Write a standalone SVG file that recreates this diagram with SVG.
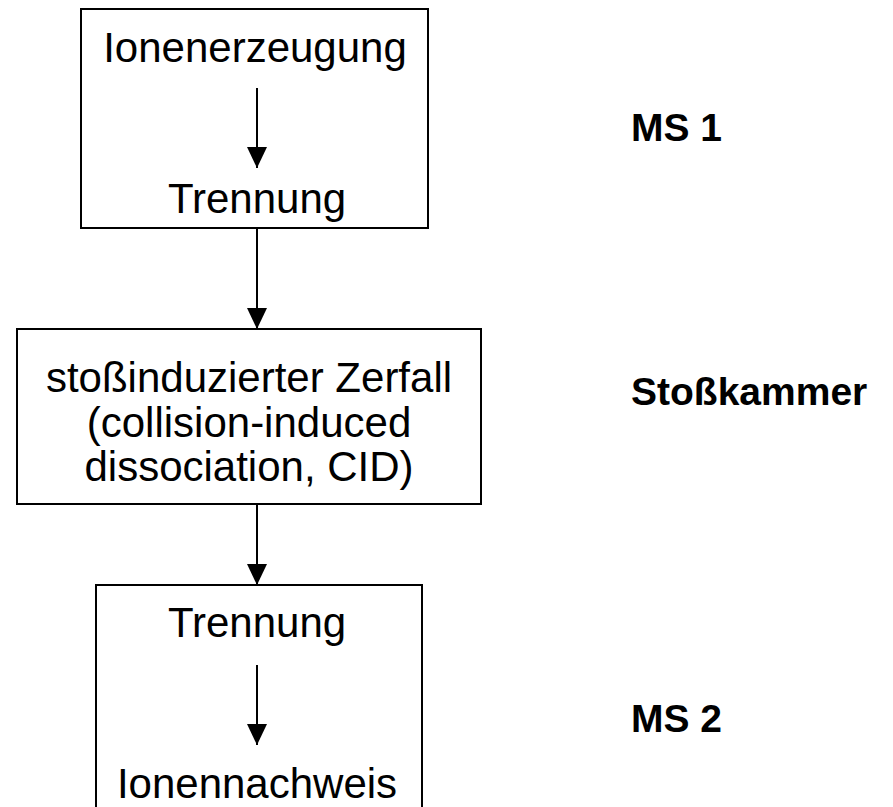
<svg xmlns="http://www.w3.org/2000/svg" width="893" height="807" viewBox="0 0 893 807">
  <defs>
    <marker id="arrow" markerWidth="21" markerHeight="20" refX="21" refY="10" orient="auto" markerUnits="userSpaceOnUse">
      <path d="M0,0 L21,10 L0,20 Z" fill="#000"/>
    </marker>
    <style>
      .box { fill: #fff; stroke: #000; stroke-width: 2; }
      .lbl { font-family: "Liberation Sans", Arial, sans-serif; font-size: 42px; fill: #000; text-anchor: middle; }
      .side { font-family: "Liberation Sans", Arial, sans-serif; font-size: 39px; font-weight: bold; fill: #000; }
      .conn { stroke: #000; stroke-width: 2; fill: none; marker-end: url(#arrow); }
    </style>
  </defs>
  <rect width="893" height="807" fill="#fff"/>

  <g id="ms1">
    <rect class="box" x="81" y="9" width="347" height="219"/>
    <text class="lbl" x="255" y="62">Ionenerzeugung</text>
    <text class="lbl" x="257" y="213">Trennung</text>
  </g>

  <g id="cid">
    <rect class="box" x="17" y="329" width="464" height="175"/>
    <text class="lbl" x="249" y="392">stoßinduzierter Zerfall</text>
    <text class="lbl" x="249" y="437">(collision-induced</text>
    <text class="lbl" x="249" y="481">dissociation, CID)</text>
  </g>

  <g id="ms2">
    <rect class="box" x="96" y="585" width="326" height="240"/>
    <text class="lbl" x="257" y="637">Trennung</text>
    <text class="lbl" x="257" y="798">Ionennachweis</text>
  </g>

  <g id="labels">
    <text class="side" x="631" y="141">MS 1</text>
    <text class="side" x="631" y="405">Stoßkammer</text>
    <text class="side" x="631" y="732">MS 2</text>
  </g>

  <g id="connectors">
    <line class="conn" x1="257" y1="88" x2="257" y2="168"/>
    <line class="conn" x1="257" y1="228" x2="257" y2="329"/>
    <line class="conn" x1="257" y1="504" x2="257" y2="585"/>
    <line class="conn" x1="257" y1="665" x2="257" y2="745"/>
  </g>
</svg>
